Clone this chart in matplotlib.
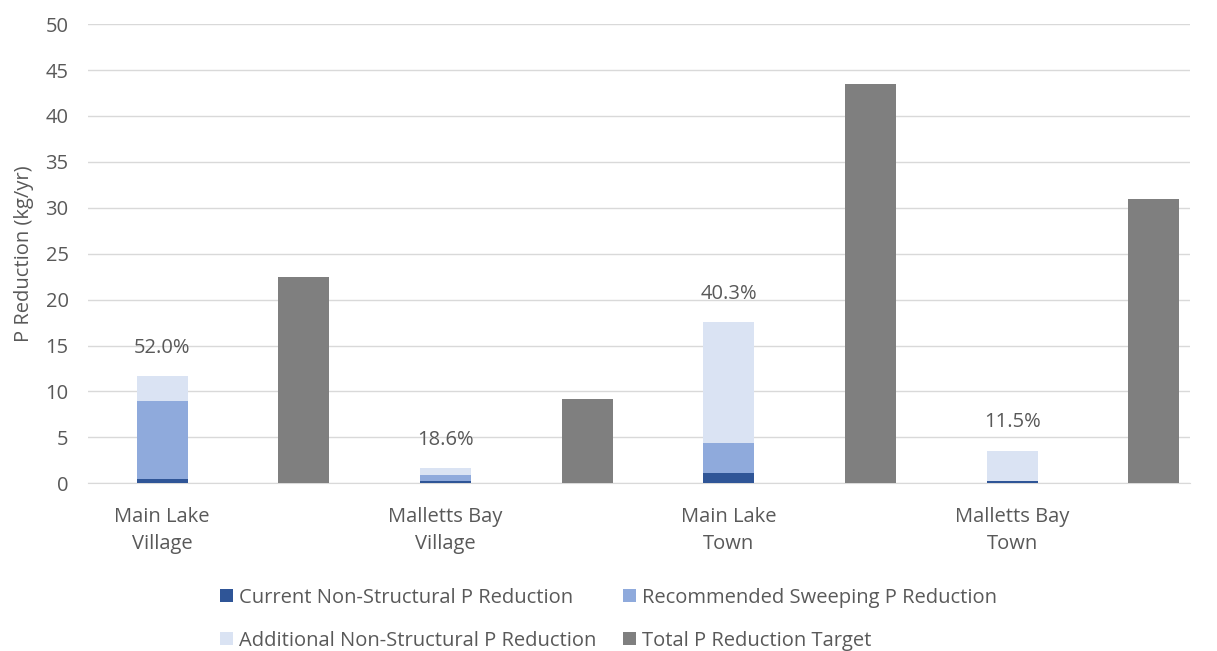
import matplotlib
matplotlib.use("Agg")
import matplotlib.pyplot as plt
from matplotlib.patches import Patch
import numpy as np

categories = ["Main Lake\nVillage", "Malletts Bay\nVillage", "Main Lake\nTown", "Malletts Bay\nTown"]
current = [0.5, 0.2, 1.1, 0.3]
recommended = [8.5, 0.75, 3.3, 0.0]
additional = [2.7, 0.76, 13.13, 3.27]
target = [22.5, 9.2, 43.5, 31.0]
pct_labels = ["52.0%", "18.6%", "40.3%", "11.5%"]

series_names = ["Current Non-Structural P Reduction", "Recommended Sweeping P Reduction",
                "Additional Non-Structural P Reduction", "Total P Reduction Target"]
colors = ["#2f5597", "#8faadc", "#dae3f3", "#7f7f7f"]
text_color = "#595959"
fs = 14.5

plt.rcParams["font.family"] = ["Open Sans", "DejaVu Sans"]

fig = plt.figure(figsize=(12.17, 6.51), dpi=100)
ax = fig.add_axes([0.0723, 0.2576, 0.9057, 0.7054])

x = np.arange(len(categories))
w = 0.18
cur = np.array(current)
rec = np.array(recommended)
add = np.array(additional)

ax.bar(x, cur, w, color=colors[0], zorder=3)
ax.bar(x, rec, w, bottom=cur, color=colors[1], zorder=3)
ax.bar(x, add, w, bottom=cur + rec, color=colors[2], zorder=3)
ax.bar(x + 0.5, target, w, color=colors[3], zorder=3)

totals = cur + rec + add
for xi, t, lab in zip(x, totals, pct_labels):
    ax.annotate(lab, (xi, t), xytext=(0, 13), textcoords="offset points",
                ha="center", va="bottom", fontsize=fs, color=text_color)

ax.set_ylim(0, 50)
ax.set_yticks(np.arange(0, 51, 5))
ax.set_xlim(-0.262, 3.628)
ax.set_xticks(x)
ax.set_xticklabels(categories, linespacing=1.45)
ax.tick_params(axis="both", length=0, labelsize=fs, colors=text_color)
ax.tick_params(axis="x", pad=17)
ax.tick_params(axis="y", pad=14)
ax.grid(axis="y", color="#d9d9d9", linewidth=1, zorder=0)
for s in ["left", "right", "top"]:
    ax.spines[s].set_visible(False)
ax.spines["bottom"].set_color("#d9d9d9")
ax.set_ylabel("P Reduction (kg/yr)", fontsize=fs, color=text_color, labelpad=8)

# legend entries filled row by row
order = [0, 2, 1, 3]
handles = [Patch(facecolor=colors[i]) for i in order]
labels = [series_names[i] for i in order]
fig.legend(handles, labels, loc="upper center", bbox_to_anchor=(0.5, 0.113),
           ncol=2, frameon=False, fontsize=fs, labelcolor=text_color,
           handlelength=0.65, handleheight=0.65, handletextpad=0.3,
           columnspacing=1.3, labelspacing=1.15, borderpad=0)

fig.savefig("out.png", dpi=100)
